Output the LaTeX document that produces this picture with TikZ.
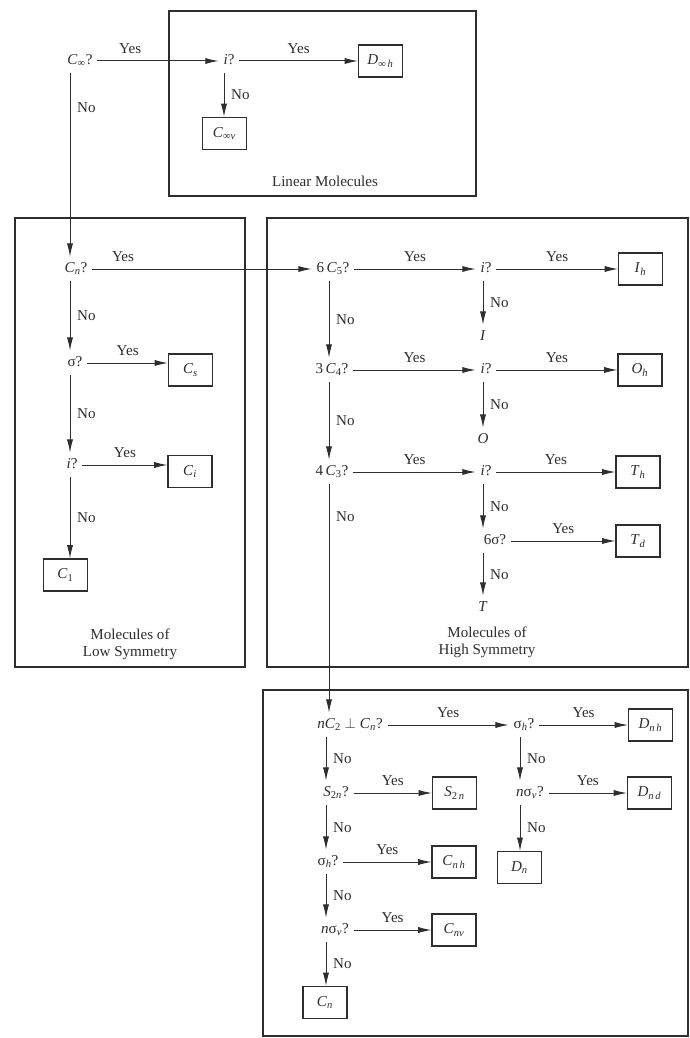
\documentclass[tikz,border=0pt]{standalone}
\usepackage{fontspec}
\setmainfont{Liberation Serif}
\usetikzlibrary{arrows.meta}
\definecolor{ink}{gray}{0.18}
\newcommand{\Sy}[2]{\textit{#1}\textsubscript{#2}}
\newcommand{\It}[1]{\textit{#1}}
\begin{document}
\begin{tikzpicture}[x=0.75pt,y=-0.75pt,
  every node/.style={font=\fontsize{11.3}{13}\selectfont, text=ink},
  q/.style={inner sep=3.5pt, text height=8pt, text depth=3pt},
  res/.style={draw=ink, line width=0.8pt, minimum width=33pt, minimum height=24pt, inner sep=1pt},
  frame/.style={draw=ink, line width=1.1pt},
  arr/.style={draw=ink, line width=0.75pt, -{Latex[length=10pt,width=4.6pt]}},
  yes/.style={above=3pt, inner sep=2pt},
  no/.style={right=3pt, inner sep=2pt},
  ttl/.style={align=center, inner sep=1pt}
]
\useasboundingbox[fill=white] (0,0) rectangle (689,1038);
% columns
\coordinate (lc) at (70,0);
\coordinate (tc) at (224,0);
\coordinate (hc) at (329,0);
\coordinate (mc) at (483,0);
\coordinate (dc) at (326,0);
\coordinate (rc) at (520,0);

% frames
\draw[frame] (169,11) rectangle (476,196);
\draw[frame] (15,218) rectangle (245,667);
\draw[frame] (267,218) rectangle (688,667);
\draw[frame] (263,690) rectangle (688,1036);

% titles
\node[ttl] (tlin) at (325,181) {Linear Molecules};
\node[ttl] (tlow) at (130,644) {Molecules of\\Low Symmetry};
\node[ttl] (thigh) at (487,642) {Molecules of\\High Symmetry};

% linear
\node[q] (cinf) at (80,61) {\Sy{C}{∞}?};
\node[q] (i0) at (229,61) {\It{i}?};
\node[res] (Dinfh) at (380.5,61) {\Sy{D}{∞\,\It{h}}};
\node[res] (Cinfv) at (224.5,133.5) {\Sy{C}{∞\It{v}}};

% low symmetry
\node[q] (cn) at (76,269) {\Sy{C}{\It{n}}?};
\node[q] (sig) at (75,363) {σ?};
\node[q] (i1) at (72,465) {\It{i}?};
\node[res] (Cs) at (190.5,370) {\Sy{C}{\It{s}}};
\node[res] (Ci) at (190,471.5) {\Sy{C}{\It{i}}};
\node[res] (C1) at (65.5,575) {\Sy{C}{1}};

% high symmetry
\node[q] (c5) at (333,269) {6\,\Sy{C}{5}?};
\node[q] (i2) at (486,269) {\It{i}?};
\node[res] (Ih) at (640.5,269) {\Sy{I}{\It{h}}};
\node[q] (Ib) at (483,337) {\It{I}};
\node[q] (c4) at (332,370) {3\,\Sy{C}{4}?};
\node[q] (i3) at (486,370) {\It{i}?};
\node[res] (Oh) at (640,370) {\Sy{O}{\It{h}}};
\node[q] (Ob) at (483,440) {\It{O}};
\node[q] (c3) at (332,472) {4\,\Sy{C}{3}?};
\node[q] (i4) at (486,472) {\It{i}?};
\node[res] (Th) at (638,472) {\Sy{T}{\It{h}}};
\node[q] (s6) at (495,541) {6σ?};
\node[res] (Td) at (638,541) {\Sy{T}{\It{d}}};
\node[q] (Tb) at (483,608) {\It{T}};

% dihedral
\node[q] (nc2) at (350,725) {\It{n}\Sy{C}{2} $\perp$ \Sy{C}{\It{n}}?};
\node[q] (sh1) at (524,725) {σ\textsubscript{\It{h}}?};
\node[res] (Dnh) at (650.5,725) {\Sy{D}{\It{n\,h}}};
\node[q] (s2n) at (336,793) {\Sy{S}{2\It{n}}?};
\node[res] (S2n) at (454.5,793) {\Sy{S}{2\,\It{n}}};
\node[q] (nsv1) at (530,793) {\It{n}σ\textsubscript{\It{v}}?};
\node[res] (Dnd) at (649.5,793) {\Sy{D}{\It{n\,d}}};
\node[res] (Dn) at (519.5,867.5) {\Sy{D}{\It{n}}};
\node[q] (sh2) at (328,862) {σ\textsubscript{\It{h}}?};
\node[res] (Cnh) at (454,862) {\Sy{C}{\It{n\,h}}};
\node[q] (nsv2) at (335,930) {\It{n}σ\textsubscript{\It{v}}?};
\node[res] (Cnv) at (454,930) {\Sy{C}{\It{nv}}};
\node[res] (Cn) at (325,1002.5) {\Sy{C}{\It{n}}};

% linear connectors
\draw[arr] (cinf.east) -- node[yes,pos=0.27]{Yes} (cinf.east -| i0.west);
\draw[arr] (i0.east) -- node[yes]{Yes} (i0.east -| Dinfh.west);
\draw[arr] (i0.south -| tc) -- node[no]{No} (Cinfv.north -| tc);
\draw[arr] (cinf.south -| lc) -- node[no,pos=0.19]{No} (cn.north -| lc);

% low connectors
\draw[arr] (cn.east) -- node[yes,pos=0.14]{Yes} (cn.east -| c5.west);
\draw[arr] (cn.south -| lc) -- node[no]{No} (sig.north -| lc);
\draw[arr] (sig.east) -- node[yes]{Yes} (sig.east -| Cs.west);
\draw[arr] (sig.south -| lc) -- node[no]{No} (i1.north -| lc);
\draw[arr] (i1.east) -- node[yes]{Yes} (i1.east -| Ci.west);
\draw[arr] (i1.south -| lc) -- node[no]{No} (C1.north -| lc);

% high connectors
\draw[arr] (c5.east) -- node[yes]{Yes} (c5.east -| i2.west);
\draw[arr] (i2.east) -- node[yes]{Yes} (i2.east -| Ih.west);
\draw[arr] (i2.south -| mc) -- node[no]{No} (Ib.north -| mc);
\draw[arr] (c5.south -| hc) -- node[no]{No} (c4.north -| hc);
\draw[arr] (c4.east) -- node[yes]{Yes} (c4.east -| i3.west);
\draw[arr] (i3.east) -- node[yes]{Yes} (i3.east -| Oh.west);
\draw[arr] (i3.south -| mc) -- node[no]{No} (Ob.north -| mc);
\draw[arr] (c4.south -| hc) -- node[no]{No} (c3.north -| hc);
\draw[arr] (c3.east) -- node[yes]{Yes} (c3.east -| i4.west);
\draw[arr] (i4.east) -- node[yes]{Yes} (i4.east -| Th.west);
\draw[arr] (i4.south -| mc) -- node[no]{No} (s6.north -| mc);
\draw[arr] (s6.east) -- node[yes]{Yes} (s6.east -| Td.west);
\draw[arr] (s6.south -| mc) -- node[no]{No} (Tb.north -| mc);
\draw[arr] (c3.south -| hc) -- node[no,pos=0.14]{No} (nc2.north -| hc);

% dihedral connectors
\draw[arr] (nc2.east) -- node[yes]{Yes} (nc2.east -| sh1.west);
\draw[arr] (sh1.east) -- node[yes]{Yes} (sh1.east -| Dnh.west);
\draw[arr] (sh1.south -| rc) -- node[no]{No} (nsv1.north -| rc);
\draw[arr] (nsv1.east) -- node[yes]{Yes} (nsv1.east -| Dnd.west);
\draw[arr] (nsv1.south -| rc) -- node[no]{No} (Dn.north -| rc);
\draw[arr] (nc2.south -| dc) -- node[no]{No} (s2n.north -| dc);
\draw[arr] (s2n.east) -- node[yes]{Yes} (s2n.east -| S2n.west);
\draw[arr] (s2n.south -| dc) -- node[no]{No} (sh2.north -| dc);
\draw[arr] (sh2.east) -- node[yes]{Yes} (sh2.east -| Cnh.west);
\draw[arr] (sh2.south -| dc) -- node[no]{No} (nsv2.north -| dc);
\draw[arr] (nsv2.east) -- node[yes]{Yes} (nsv2.east -| Cnv.west);
\draw[arr] (nsv2.south -| dc) -- node[no]{No} (Cn.north -| dc);
\end{tikzpicture}
\end{document}
